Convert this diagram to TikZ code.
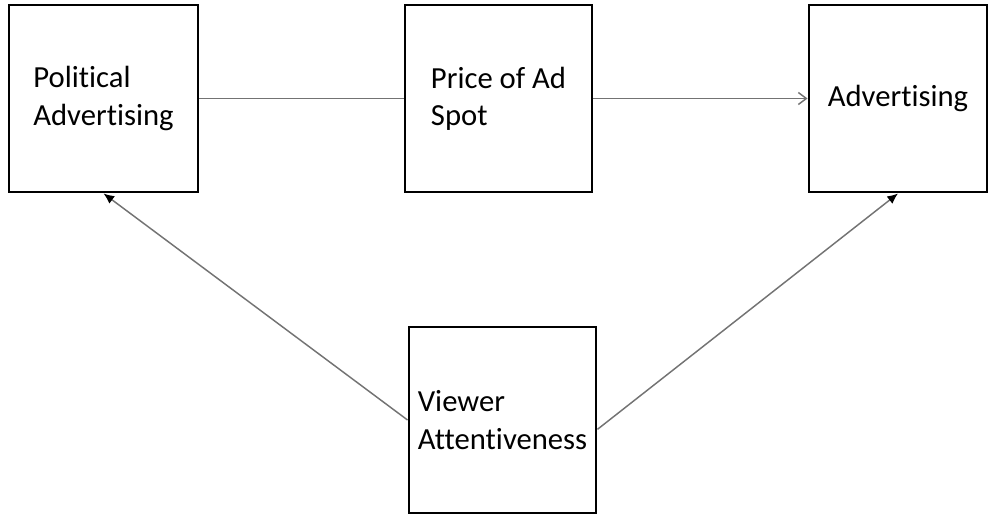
\documentclass[tikz,border=0pt]{standalone}
\usepackage{fontspec}
\setmainfont{Carlito}[Ligatures=NoCommon]
\usepackage{tikz}
\usetikzlibrary{positioning}
\usetikzlibrary{arrows,arrows.meta}
\usetikzlibrary{calc}

\begin{document}
\begin{tikzpicture}[x=0.75pt,y=-0.75pt]
\tikzstyle{factor}=[draw, line width=2.2pt, align=left, minimum height=140.25pt, font=\fontsize{23}{28}\selectfont]
\tikzstyle{link}=[draw=black!55, line width=1.1pt]
\tikzstyle{head}=[-{Latex[color=black,length=8pt,width=7pt]}]
\useasboundingbox (0,0) rectangle (988,521);
\node[factor, minimum width=141.75pt] (politics) at (103.5,98.5) {Political\\Advertising};
\node[factor, minimum width=140.25pt] (price) at (498.5,98.5) {Price of Ad\\Spot};
\node[factor, minimum width=133.5pt] (advert) at (898,98.5) {Advertising};
\node[factor, minimum width=140.25pt, minimum height=139.5pt] (viewer) at (502.5,420) {Viewer\\Attentiveness};
\draw[link] (politics) -- (price);
\draw[link,-{Straight Barb[length=6pt,width=9pt]}] (price) -- (advert);
%\draw[link,-latex] (viewer) -- (politics);
\draw[link,head] (viewer.west) -- (politics.south);
\draw[link,head] ([yshift=-7pt]viewer.east) -- (advert.south);
\end{tikzpicture}
\end{document}
